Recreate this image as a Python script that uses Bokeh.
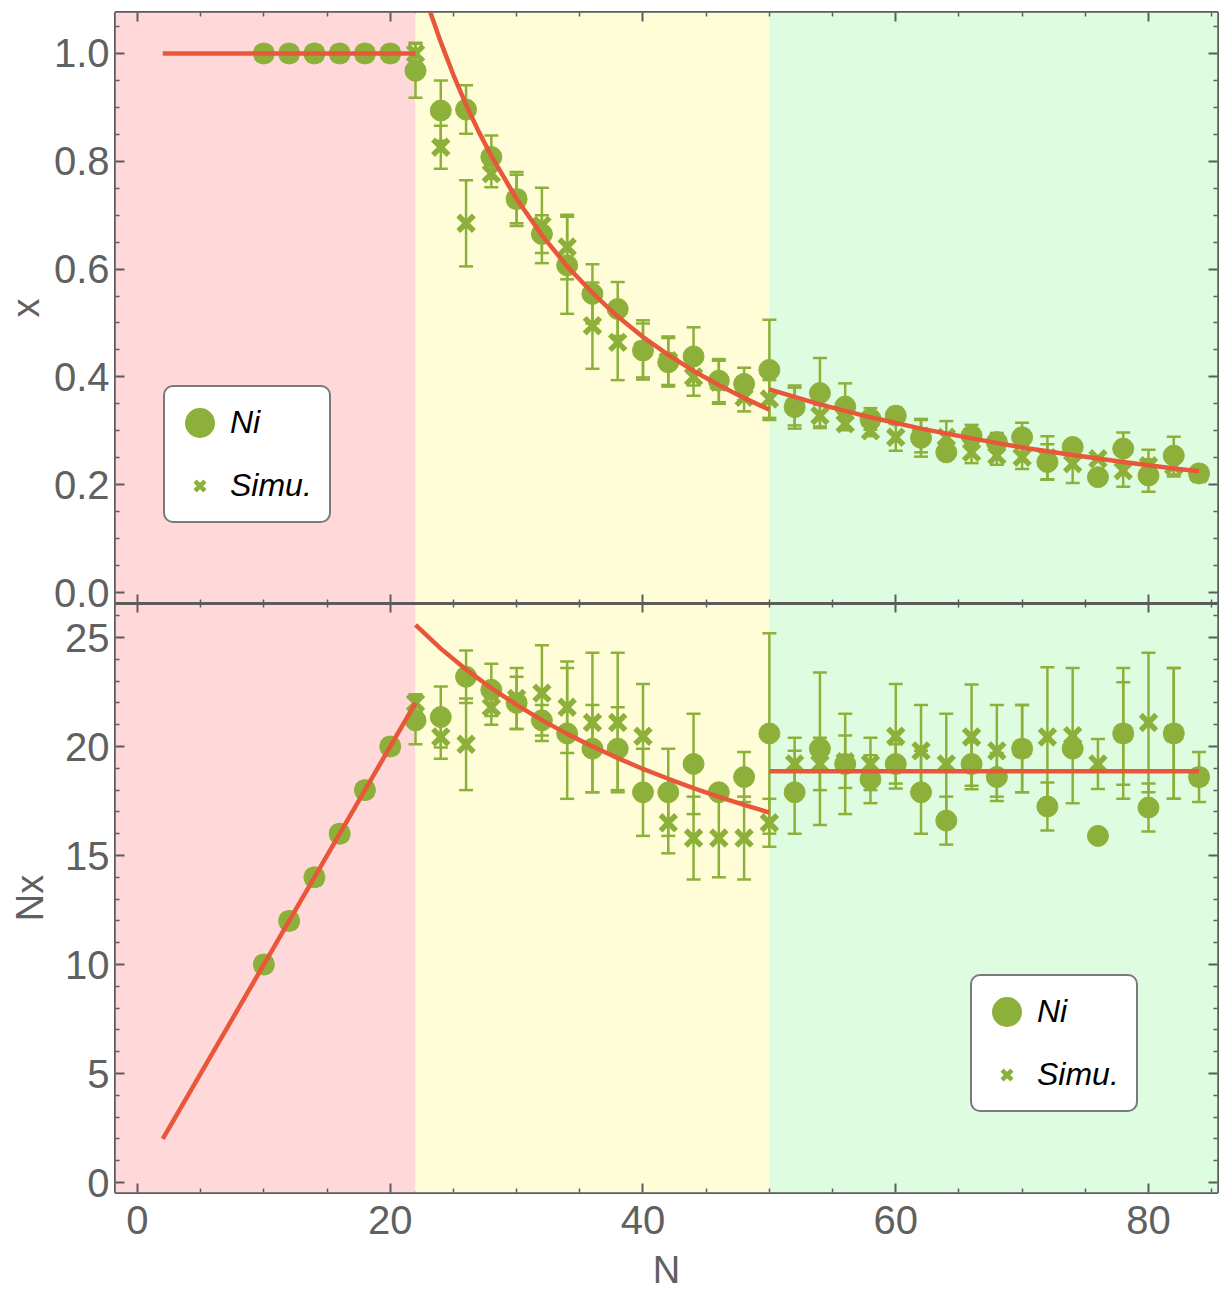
import numpy as np
from bokeh.plotting import figure
from bokeh.layouts import column
from bokeh.models import (Range1d, LinearAxis, FixedTicker, NumeralTickFormatter, BoxAnnotation,
                          Whisker, TeeHead, ColumnDataSource, Legend, LegendItem, CustomJSTickFormatter)
from bokeh.embed import file_html
from bokeh.resources import INLINE

# ---------------- data ----------------
N = [10, 12, 14, 16, 18, 20, 22, 24, 26, 28, 30, 32, 34, 36, 38, 40, 42, 44, 46, 48,
     50, 52, 54, 56, 58, 60, 62, 64, 66, 68, 70, 72, 74, 76, 78, 80, 82, 84]

# top panel: x
ni_x = [1.0, 1.0, 1.0, 1.0, 1.0, 1.0, 0.968, 0.894, 0.896, 0.808, 0.730, 0.665, 0.607, 0.554, 0.526, 0.449, 0.427, 0.438, 0.393, 0.387,
        0.413, 0.344, 0.370, 0.345, 0.322, 0.328, 0.287, 0.260, 0.291, 0.279, 0.288, 0.242, 0.270, 0.214, 0.267, 0.217, 0.254, 0.221]
ni_x_err = [0, 0, 0, 0, 0, 0, 0.050, 0.056, 0.045, 0.040, 0.050, 0.035, 0.090, 0.055, 0.050, 0.050, 0.045, 0.054, 0.040, 0.030,
            0.093, 0.040, 0.065, 0.043, 0.020, 0.015, 0.035, 0.010, 0.020, 0.017, 0.027, 0.033, 0, 0, 0.030, 0.030, 0.035, 0]
sim_x = [1.0, 1.0, 1.0, 1.0, 1.0, 1.0, 1.0, 0.826, 0.685, 0.777, 0.730, 0.681, 0.641, 0.495, 0.464, 0.450, 0.430, 0.400, 0.390, 0.362,
         0.359, 0.345, 0.328, 0.313, 0.300, 0.288, 0.290, 0.288, 0.260, 0.254, 0.251, 0.250, 0.239, 0.248, 0.226, 0.235, 0.235, 0.220]
sim_x_err = [0, 0, 0, 0, 0, 0, 0.020, 0.040, 0.080, 0.025, 0.045, 0.070, 0.060, 0.080, 0.070, 0.055, 0.045, 0.035, 0.040, 0.026,
             0.035, 0.035, 0.020, 0.012, 0.010, 0.025, 0.030, 0.030, 0.020, 0.017, 0.022, 0.040, 0.036, 0, 0.030, 0.030, 0.020, 0]

# bottom panel: Nx
ni_nx = [10, 12, 14, 16, 18, 20, 21.2, 21.35, 23.2, 22.6, 22.0, 21.2, 20.6, 19.9, 19.9, 17.9, 17.9, 19.2, 17.9, 18.6,
         20.6, 17.9, 19.9, 19.2, 18.5, 19.2, 17.9, 16.6, 19.2, 18.6, 19.9, 17.25, 19.9, 15.9, 20.6, 17.2, 20.6, 18.6]
ni_nx_err = [0, 0, 0, 0, 0, 0, 1.1, 1.4, 1.2, 1.2, 1.2, 0.7, 3.0, 2.0, 1.9, 2.0, 2.0, 2.3, 0, 1.15,
             4.6, 1.9, 3.5, 2.3, 1.1, 0.9, 1.9, 1.1, 1.0, 1.1, 2.0, 1.1, 0, 0, 2.35, 1.1, 3.0, 1.15]
sim_nx = [10, 12, 14, 16, 18, 20, 22.0, 20.44, 20.1, 21.8, 22.2, 22.45, 21.8, 21.1, 21.1, 20.47, 16.5, 15.8, 15.8, 15.8,
          16.5, 19.2, 19.2, 19.3, 19.2, 20.47, 19.8, 19.2, 20.44, 19.8, 19.9, 20.44, 20.5, 19.2, 20.6, 21.1, 20.6, 18.6]
sim_nx_err = [0, 0, 0, 0, 0, 0, 0.4, 1.0, 2.1, 0.8, 1.4, 2.2, 2.1, 3.2, 3.2, 2.4, 1.4, 1.9, 1.8, 1.9,
              1.1, 1.2, 1.2, 1.2, 1.2, 2.4, 2.1, 2.3, 2.4, 2.1, 2.0, 3.2, 3.1, 1.15, 3.0, 3.2, 3.0, 0]

# regime boundaries in N
regime_edges = [22, 50]

# fitted curves
fit_top_a_N = [2, 22]
fit_top_a = [1.0, 1.0]
fit_top_b_N = [22, 23, 24, 25, 26, 27, 28, 30, 32, 34, 36, 38, 40, 42, 44, 46, 48, 50]
fit_top_b = [1.163, 1.088, 1.021, 0.960, 0.905, 0.855, 0.810, 0.730, 0.663, 0.605, 0.556, 0.512, 0.474, 0.441, 0.411, 0.385, 0.361, 0.339]
fit_top_c_N = [50, 54, 58, 62, 66, 70, 74, 78, 82, 84]
fit_top_c = [0.377, 0.349, 0.325, 0.304, 0.286, 0.269, 0.255, 0.242, 0.230, 0.225]

fit_bot_a_N = [2, 22]
fit_bot_a = [2, 22]
fit_bot_b_N = [22, 24, 26, 28, 30, 32, 34, 36, 38, 40, 42, 44, 46, 48, 50]
fit_bot_b = [25.58, 24.49, 23.53, 22.68, 21.91, 21.21, 20.58, 20.0, 19.47, 18.97, 18.52, 18.09, 17.69, 17.32, 16.97]
fit_bot_c_N = [50, 84]
fit_bot_c = [18.86, 18.86]

x_ticks = [0, 20, 40, 60, 80]
top_y_ticks = [0.0, 0.2, 0.4, 0.6, 0.8, 1.0]
bot_y_ticks = [0, 5, 10, 15, 20, 25]

# ---------------- style ----------------
GREEN = "#8DB03A"
RED = "#E8573A"
FRAME = "#5C5C5C"
TXT = "#606060"
REGION_COLORS = ["#FFD8DA", "#FFFDD8", "#DEFCDF"]
FONT = "Liberation Sans"

x_range = Range1d(-1.74, 85.46)


def make_fig(height, y_range, top_border, bottom_border):
    p = figure(width=1219, height=height, x_range=x_range, y_range=y_range,
               output_backend="svg", toolbar_location=None,
               x_axis_location=None, y_axis_location=None,
               min_border_left=115, min_border_right=2,
               min_border_top=top_border, min_border_bottom=bottom_border)
    p.grid.visible = False
    p.outline_line_color = FRAME
    p.outline_line_width = 3
    p.outline_line_alpha = 1
    p.background_fill_color = "white"
    p.border_fill_color = "white"
    # regime backgrounds
    p.add_layout(BoxAnnotation(right=regime_edges[0], fill_color=REGION_COLORS[0], fill_alpha=1,
                               line_color=None, level="image"))
    p.add_layout(BoxAnnotation(left=regime_edges[0], right=regime_edges[1], fill_color=REGION_COLORS[1],
                               fill_alpha=1, line_color=None, level="image"))
    p.add_layout(BoxAnnotation(left=regime_edges[1], fill_color=REGION_COLORS[2], fill_alpha=1,
                               line_color=None, level="image"))
    return p


tick_kw = dict(axis_line_color=None, major_tick_in=9, major_tick_out=0, minor_tick_in=4, minor_tick_out=0,
               major_tick_line_color=FRAME, minor_tick_line_color=FRAME,
               major_tick_line_width=2, minor_tick_line_width=1.5)
hidden_kw = dict(major_label_text_font_size="0px", major_label_standoff=0,
                 formatter=CustomJSTickFormatter(code="return ''"))
label_kw = dict(major_label_text_font=FONT, major_label_text_font_size="40px", major_label_text_color=TXT,
                axis_label_text_font=FONT, axis_label_text_font_size="38px", axis_label_text_color=TXT,
                axis_label_text_font_style="normal")

x_minor = [v for v in range(-5, 90, 5) if v % 20 != 0]


def add_axes(p, yt_major, yt_minor, yfmt, ylabel, label_standoff, show_x):
    yt = FixedTicker(ticks=yt_major, minor_ticks=yt_minor)
    left = LinearAxis(ticker=yt, axis_label=ylabel, major_label_standoff=6, axis_label_standoff=label_standoff,
                      **label_kw, **tick_kw)
    if yfmt is not None:
        left.formatter = yfmt
    p.add_layout(left, "left")
    p.add_layout(LinearAxis(ticker=FixedTicker(ticks=yt_major, minor_ticks=yt_minor), **hidden_kw, **tick_kw), "right")
    above = LinearAxis(ticker=FixedTicker(ticks=x_ticks, minor_ticks=x_minor), **hidden_kw, **tick_kw)
    if show_x:
        # shared boundary between the two panels: draw it a little heavier
        above.axis_line_color = FRAME
        above.axis_line_width = 3
    p.add_layout(above, "above")
    if show_x:
        p.add_layout(LinearAxis(ticker=FixedTicker(ticks=x_ticks, minor_ticks=x_minor), axis_label="N",
                                major_label_standoff=13, axis_label_standoff=12, **label_kw, **tick_kw), "below")
    else:
        p.add_layout(LinearAxis(ticker=FixedTicker(ticks=x_ticks, minor_ticks=x_minor), **hidden_kw, **tick_kw), "below")


def add_errorbars(p, vals, errs):
    xs = [n for n, e in zip(N, errs) if e > 0]
    lo = [v - e for v, e in zip(vals, errs) if e > 0]
    hi = [v + e for v, e in zip(vals, errs) if e > 0]
    src = ColumnDataSource(dict(N=xs, lo=lo, hi=hi))
    w = Whisker(base="N", lower="lo", upper="hi", source=src, dimension="height",
                line_color=GREEN, line_width=2.5,
                upper_head=TeeHead(size=14, line_color=GREEN, line_width=2.5),
                lower_head=TeeHead(size=14, line_color=GREEN, line_width=2.5))
    p.add_layout(w)


def add_points(p, ni, ni_err, sim, sim_err):
    add_errorbars(p, ni, ni_err)
    add_errorbars(p, sim, sim_err)
    p.scatter(N, ni, marker="circle", size=21, fill_color=GREEN, line_color=GREEN)
    p.scatter(N, sim, marker="x", size=22, line_color=GREEN, line_width=5.5)


def add_legend(p, loc):
    d1 = p.scatter([float("nan")], [float("nan")], marker="circle", size=14,
                   fill_color=GREEN, line_color=GREEN, line_width=16)
    d2 = p.scatter([float("nan")], [float("nan")], marker="x", size=14, line_color=GREEN, line_width=4.5)
    leg = Legend(items=[LegendItem(label="Ni", renderers=[d1]), LegendItem(label="Simu.", renderers=[d2])],
                 location=loc, orientation="vertical", glyph_width=35, glyph_height=35,
                 label_text_font=FONT, label_text_font_style="italic", label_text_font_size="32px",
                 label_text_color="black", padding=17, spacing=26, label_standoff=13, margin=0,
                 border_line_color="#7A7A7A", border_line_width=2, border_line_alpha=1,
                 background_fill_color="white", background_fill_alpha=1)
    try:
        leg.border_radius = 10
    except Exception:
        pass
    p.add_layout(leg)


# ---------------- top panel ----------------
top = make_fig(615, Range1d(-0.0204, 1.076), 12, 12)
add_axes(top, top_y_ticks, [0.05, 0.1, 0.15, 0.25, 0.3, 0.35, 0.45, 0.5, 0.55, 0.65, 0.7, 0.75, 0.85, 0.9, 0.95, 1.05],
         NumeralTickFormatter(format="0.0"), "x", 4, False)
add_points(top, ni_x, ni_x_err, sim_x, sim_x_err)
for xs, ys in [(fit_top_a_N, fit_top_a), (fit_top_b_N, fit_top_b), (fit_top_c_N, fit_top_c)]:
    top.line(xs, ys, line_color=RED, line_width=4.5)
add_legend(top, (48, 80))

# ---------------- bottom panel ----------------
bot = make_fig(693, Range1d(-0.458, 26.56), 3, 100)
bot.border_fill_alpha = 0
bot.margin = (-15, 0, 0, 0)
add_axes(bot, bot_y_ticks, [v for v in range(0, 27) if v % 5 != 0], None, "Nx", 11, True)
add_points(bot, ni_nx, ni_nx_err, sim_nx, sim_nx_err)
for xs, ys in [(fit_bot_a_N, fit_bot_a), (fit_bot_b_N, fit_bot_b), (fit_bot_c_N, fit_bot_c)]:
    bot.line(xs, ys, line_color=RED, line_width=4.5)
add_legend(bot, (855, 80))

layout = column(top, bot, spacing=0)
open("out.html", "w").write(file_html(layout, INLINE))
